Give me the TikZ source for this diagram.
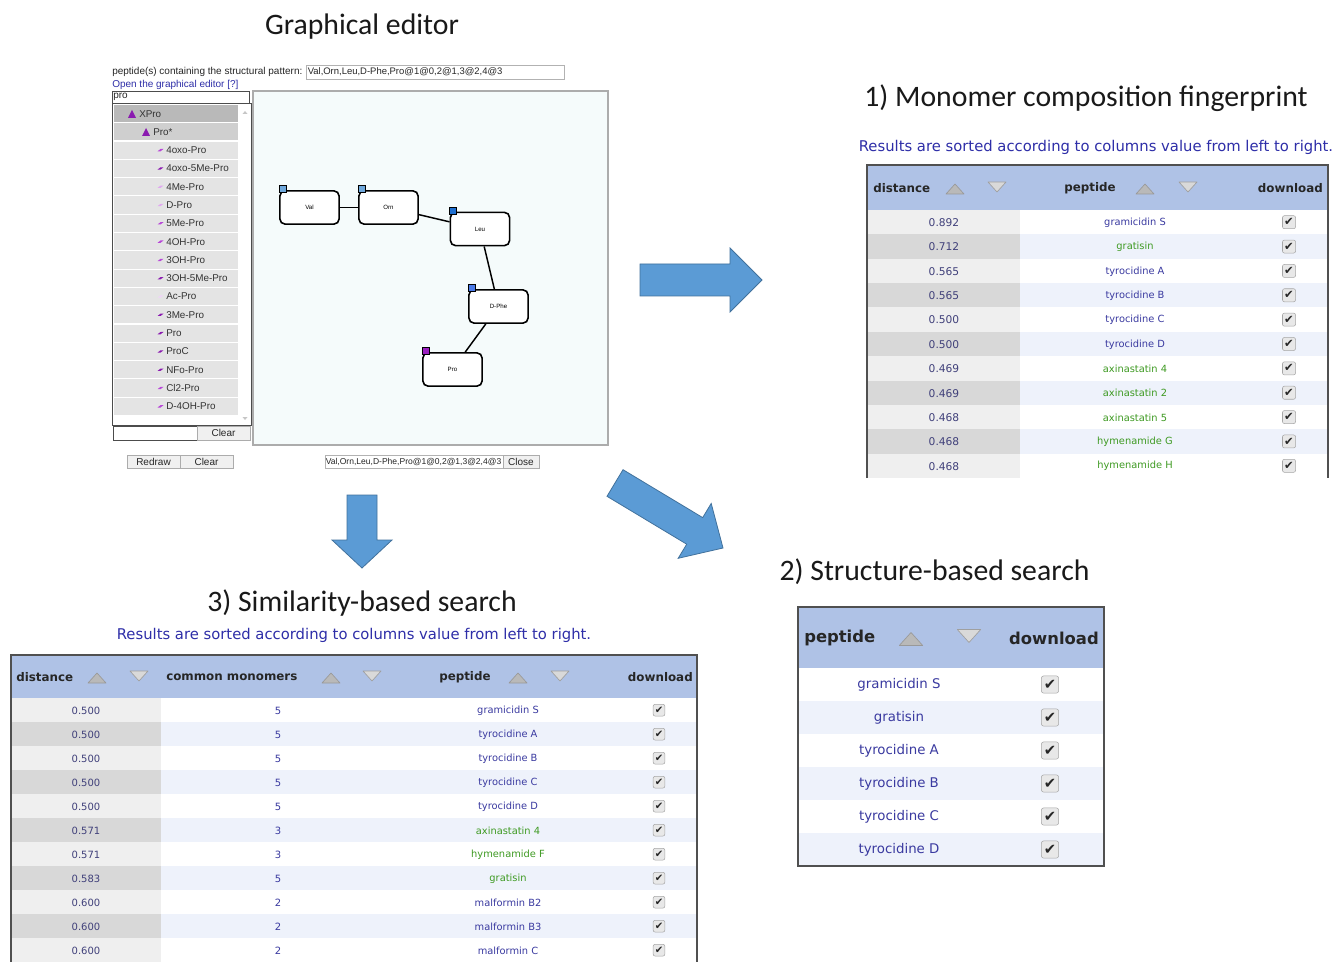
\documentclass[tikz,border=0pt]{standalone}
\usepackage{fontspec}
\setmainfont{DejaVu Sans}
\newfontfamily\carl{Carlito}
\newfontfamily\lib{Liberation Sans}
\definecolor{hdr}{HTML}{AFC2E6}
\definecolor{gA}{HTML}{EFEFEF}
\definecolor{gB}{HTML}{D8D8D8}
\definecolor{rB}{HTML}{EEF2FB}
\definecolor{tb}{HTML}{3A3AA0}
\definecolor{tg}{HTML}{3E9A22}
\definecolor{numc}{HTML}{40407A}
\definecolor{resc}{HTML}{2E2EA8}
\definecolor{arr}{HTML}{5B9BD5}
\definecolor{arrd}{HTML}{41719C}
\definecolor{canv}{HTML}{F5FBFB}
\definecolor{bord}{HTML}{505050}
\definecolor{itemc}{HTML}{E4E4E4}
\definecolor{pA}{HTML}{B848D8}
\definecolor{pB}{HTML}{8A1AB0}
\definecolor{pC}{HTML}{E0A8F0}
\definecolor{pD}{HTML}{F0D4F8}
\definecolor{sqA}{HTML}{6FA8DC}
\definecolor{sqB}{HTML}{1F6FD0}
\definecolor{sqC}{HTML}{4A7AE8}
\definecolor{sqD}{HTML}{9B1FC0}
\newcommand\ckmark{✔}
\tikzset{
  ttl/.style={font=\carl\fontsize{22.3}{26}\selectfont, inner sep=0, text=black!90},
  res/.style={font=\fontsize{11.1}{13}\selectfont, text=resc, inner sep=0},
  hd/.style={font=\bfseries\fontsize{8.9}{10}\selectfont, inner sep=0, text=black!85},
  hdb/.style={font=\bfseries\fontsize{12.3}{14}\selectfont, inner sep=0, text=black!85},
  numa/.style={font=\fontsize{8}{9}\selectfont, text=numc, inner sep=0},
  nma/.style={font=\fontsize{7.4}{9}\selectfont, inner sep=0},
  nmb/.style={font=\fontsize{10}{12}\selectfont, inner sep=0, text=tb},
  numc3/.style={font=\fontsize{7.5}{9}\selectfont, text=numc, inner sep=0},
  chkbox/.style={draw=gray!70, fill=gray!18, rounded corners=1.5pt, minimum size=#1, inner sep=0, text=black!85},
  chka/.style={chkbox=9.8pt, font=\fontsize{8.6}{9}\selectfont},
  chkb/.style={chkbox=12.8pt, font=\fontsize{11}{12}\selectfont},
  chkc/.style={chkbox=8.8pt, font=\fontsize{7.6}{8}\selectfont},
  edtxt/.style={font=\lib\fontsize{7.5}{9}\selectfont, inner sep=0, text=black!85},
  itemtxt/.style={font=\lib\fontsize{7.4}{9}\selectfont, inner sep=0, anchor=west, text=black!80},
  btnbox/.style={draw=gray!65, fill=gray!12, line width=0.5pt},
  gnode/.style={draw=black, line width=1.2pt, rounded corners=4pt, fill=white, minimum width=44.5pt, minimum height=25pt, inner sep=0, font=\lib\fontsize{4.6}{5}\selectfont},
  gsq/.style={draw=black, line width=0.5pt, minimum size=5.2pt, inner sep=0},
  bigarrow/.style={fill=arr, draw=arrd, line width=0.6pt, line join=miter},
  pics/sortup/.style={code={\draw[draw=gray!80, fill=gray!55, line width=0.5pt, line join=round] (-9,5)--(9,5)--(0,-5)--cycle;}},
  pics/sortdn/.style={code={\draw[draw=gray!75, fill=gray!30, line width=0.5pt, line join=round] (-9,-5)--(9,-5)--(0,5)--cycle;}},
}
\begin{document}
\begin{tikzpicture}[x=0.75pt,y=-0.75pt]
\useasboundingbox (0,0) rectangle (1338,962);
\fill[white] (0,0) rectangle (1338,962);

% ---------- titles ----------
\node[ttl] (tge) at (362,27) {Graphical editor};
\node[ttl] (t1) at (1086,98) {1) Monomer composition fingerprint};
\node[res] (r1) at (1096,147) {Results are sorted according to columns value from left to right.};
\node[ttl] (t2) at (934.5,572) {2) Structure-based search};
\node[ttl] (t3) at (362,603) {3) Similarity-based search};
\node[res] (r3) at (354,635) {Results are sorted according to columns value from left to right.};

% ---------- graphical editor ----------
\node[edtxt, anchor=west] (pat) at (112,72) {peptide(s) containing the structural pattern:};
\draw[gray!60, fill=white, line width=0.5pt] (306,65) rectangle (564,79);
\node[edtxt, anchor=west, font=\lib\fontsize{7.1}{9}\selectfont] (patin) at (307.5,72) {Val,Orn,Leu,D-Phe,Pro@1@0,2@1,3@2,4@3};
\node[edtxt, anchor=west, text=resc] (open) at (112,85) {Open the graphical editor [?]};
\draw[gray!60!black, fill=white, line width=0.5pt] (112,91) rectangle (249,103);
\node[edtxt, anchor=west] (proin) at (113,97) {pro};
% list box
\draw[gray!60!black, fill=white, line width=0.6pt] (112,103) rectangle (251,425);
\fill[gray!55] (114,105) rectangle (238,122);
\fill[gray!38] (114,123) rectangle (238,140.5);
\fill[pB] (128,118)--(136,118)--(132,110)--cycle;
\node[itemtxt] (xpro) at (139,114) {XPro};
\fill[pB] (142,136)--(150,136)--(146,128)--cycle;
\node[itemtxt] (prostar) at (153,132) {Pro*};
\foreach \nm/\col [count=\i] in {4oxo-Pro/pA,4oxo-5Me-Pro/pB,4Me-Pro/pC,D-Pro/pC,5Me-Pro/pA,4OH-Pro/pA,3OH-Pro/pA,3OH-5Me-Pro/pB,Ac-Pro/pD,3Me-Pro/pB,Pro/pB,ProC/pB,NFo-Pro/pB,Cl2-Pro/pA,D-4OH-Pro/pA}{
  \pgfmathsetmacro\yt{141+18.3*(\i-1)}
  \fill[itemc] (114,\yt+0.6) rectangle (238,\yt+17.8);
  \fill[\col] (157.5,\yt+10.3)--(160.5,\yt+8)--(163.5,\yt+8)--(160.5,\yt+10.3)--cycle;
  \node[itemtxt] (it\i) at (166,\yt+9.2) {\nm};
}
\fill[gray!45] (242.5,114)--(247.5,114)--(245,111)--cycle;
\fill[gray!45] (242.5,417)--(247.5,417)--(245,420)--cycle;
\draw[gray!60!black, fill=white, line width=0.5pt] (113,426) rectangle (197,440);
\draw[btnbox] (197,426) rectangle (250,440);
\node[edtxt] (clr1) at (223.5,433) {Clear};
% canvas
\draw[gray!65, fill=canv, line width=0.8pt] (253,91) rectangle (608,445);
\node[gnode] (val) at (309.5,207.5) {Val};
\node[gnode] (orn) at (388.5,207.5) {Orn};
\node[gnode] (leu) at (480,229) {Leu};
\node[gnode] (dphe) at (498.5,306.5) {D-Phe};
\node[gnode] (pro) at (452.5,369.5) {Pro};
\draw[line width=1.1pt] (val) -- (orn);
\draw[line width=1.1pt] (orn) -- (leu);
\draw[line width=1.1pt] (leu) -- (dphe);
\draw[line width=1.1pt] (dphe) -- (pro);
\node[gsq, fill=sqA] (sqval) at ([xshift=2.6pt,yshift=0.6pt]val.north west) {};
\node[gsq, fill=sqA] (sqorn) at ([xshift=2.6pt,yshift=0.6pt]orn.north west) {};
\node[gsq, fill=sqB] (sqleu) at ([xshift=2.6pt,yshift=0.6pt]leu.north west) {};
\node[gsq, fill=sqC] (sqdphe) at ([xshift=2.6pt,yshift=0.6pt]dphe.north west) {};
\node[gsq, fill=sqD] (sqpro) at ([xshift=2.6pt,yshift=0.6pt]pro.north west) {};
% buttons below
\draw[btnbox] (127,455) rectangle (180,468);
\node[edtxt] (redraw) at (153.5,461.5) {Redraw};
\draw[btnbox] (180,455) rectangle (233,468);
\node[edtxt] (clr2) at (206.5,461.5) {Clear};
\draw[gray!60, fill=white, line width=0.5pt] (325,455) rectangle (503,468);
\node[edtxt, anchor=west, font=\lib\fontsize{6.4}{8}\selectfont] (patout) at (325.5,461.5) {Val,Orn,Leu,D-Phe,Pro@1@0,2@1,3@2,4@3};
\draw[btnbox] (503,455) rectangle (539,468);
\node[edtxt] (close) at (521,461.5) {Close};

% ---------- big arrows ----------
\draw[bigarrow] (640,264)--(730,264)--(730,248)--(762,280)--(730,312)--(730,296)--(640,296)--cycle;
\draw[bigarrow] (347,495)--(377,495)--(377,540)--(392,540)--(362,568)--(332,540)--(347,540)--cycle;
\draw[bigarrow] (623,469.7)--(702.7,517.6)--(711.2,503.5)--(723,548)--(678.2,558.3)--(686.7,544.2)--(607,496.3)--cycle;

% ---------- table 1 ----------
\fill[hdr] (868,166) rectangle (1327,210);
\node[hd, anchor=west] (h1d) at (873,188) {distance};
\pic at (955,189) {sortup};
\pic at (997,187) {sortdn};
\node[hd] (h1p) at (1090,188) {peptide};
\pic at (1145,189) {sortup};
\pic at (1188,187) {sortdn};
\node[hd, anchor=east] (h1l) at (1323,188) {download};
\foreach \va/\vb/\vc [count=\i] in {0.892/gramicidin S/tb,0.712/gratisin/tg,0.565/tyrocidine A/tb,0.565/tyrocidine B/tb,0.500/tyrocidine C/tb,0.500/tyrocidine D/tb,0.469/axinastatin 4/tg,0.469/axinastatin 2/tg,0.468/axinastatin 5/tg,0.468/hymenamide G/tg,0.468/hymenamide H/tg}{
  \pgfmathsetmacro\yt{210+24.36*(\i-1)}
  \ifodd\i\relax \def\lc{gA}\def\rc{white}\else \def\lc{gB}\def\rc{rB}\fi
  \fill[\lc] (868,\yt) rectangle (1020,\yt+24.36);
  \fill[\rc] (1020,\yt) rectangle (1327,\yt+24.36);
  \node[numa] (ad\i) at (944,\yt+12.6) {\va};
  \node[nma, text=\vc] (ap\i) at (1135,\yt+12.6) {\vb};
  \node[chka] (ac\i) at (1289,\yt+12.2) {\ckmark};
}
\draw[bord, line width=1.1pt] (867,478)--(867,165)--(1328,165)--(1328,478);

% ---------- table 2 ----------
\fill[hdr] (798,607) rectangle (1104,668);
\node[hdb, anchor=west] (h2p) at (804,638) {peptide};
\pic[scale=1.3] at (911,639) {sortup};
\pic[scale=1.3] at (969,636) {sortdn};
\node[hdb, anchor=east] (h2l) at (1099,638) {download};
\foreach \vb [count=\i] in {gramicidin S,gratisin,tyrocidine A,tyrocidine B,tyrocidine C,tyrocidine D}{
  \pgfmathsetmacro\yt{668+33*(\i-1)}
  \ifodd\i\relax \def\rc{white}\else \def\rc{rB}\fi
  \fill[\rc] (798,\yt) rectangle (1104,\yt+33);
  \node[nmb] (bp\i) at (899,\yt+17) {\vb};
  \node[chkb] (bc\i) at (1050,\yt+16.5) {\ckmark};
}
\draw[bord, line width=1.1pt] (798,607) rectangle (1104,866);

% ---------- table 3 ----------
\fill[hdr] (12,656) rectangle (696,698);
\node[hd, anchor=west] (h3d) at (16,677) {distance};
\pic at (97,678) {sortup};
\pic at (139,676) {sortdn};
\node[hd, anchor=west] (h3c) at (166,677) {common monomers};
\pic at (331,678) {sortup};
\pic at (372,676) {sortdn};
\node[hd, anchor=west] (h3p) at (439,677) {peptide};
\pic at (518,678) {sortup};
\pic at (560,676) {sortdn};
\node[hd, anchor=east] (h3l) at (693,677) {download};
\foreach \va/\vd/\vb/\vc [count=\i] in {0.500/5/gramicidin S/tb,0.500/5/tyrocidine A/tb,0.500/5/tyrocidine B/tb,0.500/5/tyrocidine C/tb,0.500/5/tyrocidine D/tb,0.571/3/axinastatin 4/tg,0.571/3/hymenamide F/tg,0.583/5/gratisin/tg,0.600/2/malformin B2/tb,0.600/2/malformin B3/tb,0.600/2/malformin C/tb}{
  \pgfmathsetmacro\yt{698+24*(\i-1)}
  \ifodd\i\relax \def\lc{gA}\def\rc{white}\else \def\lc{gB}\def\rc{rB}\fi
  \fill[\lc] (12,\yt) rectangle (161,\yt+24);
  \fill[\rc] (161,\yt) rectangle (696,\yt+24);
  \node[numc3] (cd\i) at (86,\yt+12.6) {\va};
  \node[numc3, text=tb] (cm\i) at (278,\yt+12.6) {\vd};
  \node[nma, text=\vc] (cp\i) at (508,\yt+12.6) {\vb};
  \node[chkc] (cc\i) at (659,\yt+12.2) {\ckmark};
}
\draw[bord, line width=1.1pt] (11,962)--(11,655)--(697,655)--(697,962);
\end{tikzpicture}
\end{document}
